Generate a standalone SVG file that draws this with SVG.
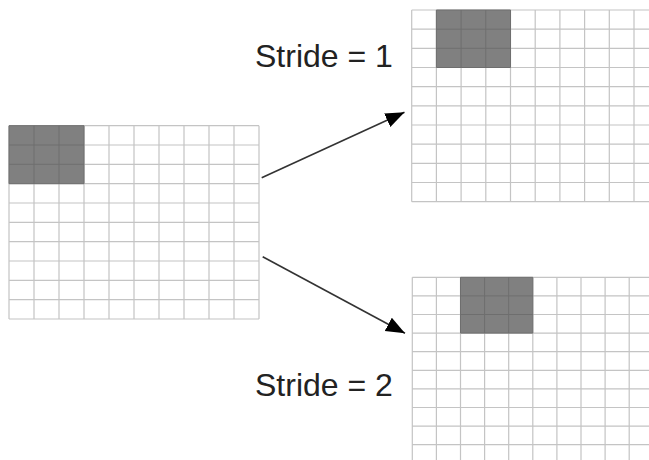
<svg xmlns="http://www.w3.org/2000/svg" width="649" height="460" viewBox="0 0 649 460">
  <style>
    .grid { fill: none; stroke: #c4c4c4; stroke-width: 1.2; }
    .shade { fill: #808080; stroke: #6e6e6e; stroke-width: 1; }
    .conn { stroke: #333333; stroke-width: 1.6; fill: none; marker-end: url(#arrow); }
    .label { font-family: "Liberation Sans", Arial, sans-serif; font-size: 32px; fill: #222222; }
  </style>
  <defs>
    <marker id="arrow" markerUnits="userSpaceOnUse" markerWidth="20" markerHeight="16" refX="19" refY="7.5" orient="auto">
      <path d="M0,0 L19,7.5 L0,15 z" fill="#000000"/>
    </marker>
  </defs>
  <rect width="649" height="460" fill="#ffffff"/>

  <g id="grid-input">
    <path class="grid" d="M9,125.7V319 M34,125.7V319 M59,125.7V319 M84,125.7V319 M109,125.7V319 M134,125.7V319 M159,125.7V319 M184,125.7V319 M209,125.7V319 M234,125.7V319 M259,125.7V319 M9,125.7H259 M9,145H259 M9,164.3H259 M9,183.7H259 M9,203H259 M9,222.3H259 M9,241.7H259 M9,261H259 M9,280.3H259 M9,299.7H259 M9,319H259"/>
    <path class="shade" d="M9,125.7H84V183.7H9z M34,125.7V183.7 M59,125.7V183.7 M9,145H84 M9,164.3H84"/>
  </g>

  <g id="grid-stride1">
    <path class="grid" d="M411.7,10V201.7 M436.4,10V201.7 M461.1,10V201.7 M485.8,10V201.7 M510.5,10V201.7 M535.2,10V201.7 M559.9,10V201.7 M584.6,10V201.7 M609.3,10V201.7 M634,10V201.7 M411.7,10H649 M411.7,29.2H649 M411.7,48.3H649 M411.7,67.5H649 M411.7,86.7H649 M411.7,105.8H649 M411.7,125H649 M411.7,144.2H649 M411.7,163.3H649 M411.7,182.5H649 M411.7,201.7H649"/>
    <path class="shade" d="M436.4,10H510.5V67.5H436.4z M461.1,10V67.5 M485.8,10V67.5 M436.4,29.2H510.5 M436.4,48.3H510.5"/>
  </g>

  <g id="grid-stride2">
    <path class="grid" d="M412.3,277.3V460 M436.4,277.3V460 M460.5,277.3V460 M484.6,277.3V460 M508.7,277.3V460 M532.8,277.3V460 M556.9,277.3V460 M581,277.3V460 M605.1,277.3V460 M629.2,277.3V460 M412.3,277.3H649 M412.3,295.9H649 M412.3,314.5H649 M412.3,333.1H649 M412.3,351.7H649 M412.3,370.3H649 M412.3,388.9H649 M412.3,407.5H649 M412.3,426.1H649 M412.3,444.7H649"/>
    <path class="shade" d="M460.5,277.3H532.8V333.1H460.5z M484.6,277.3V333.1 M508.7,277.3V333.1 M460.5,295.9H532.8 M460.5,314.5H532.8"/>
  </g>

  <g id="label-stride1">
    <text class="label" x="255" y="67">Stride = 1</text>
  </g>
  <g id="label-stride2">
    <text class="label" x="255" y="396">Stride = 2</text>
  </g>

  <g id="connectors">
    <line class="conn" x1="261.7" y1="177.7" x2="404.5" y2="112.3"/>
    <line class="conn" x1="262.7" y1="256.7" x2="405" y2="333.3"/>
  </g>
</svg>
